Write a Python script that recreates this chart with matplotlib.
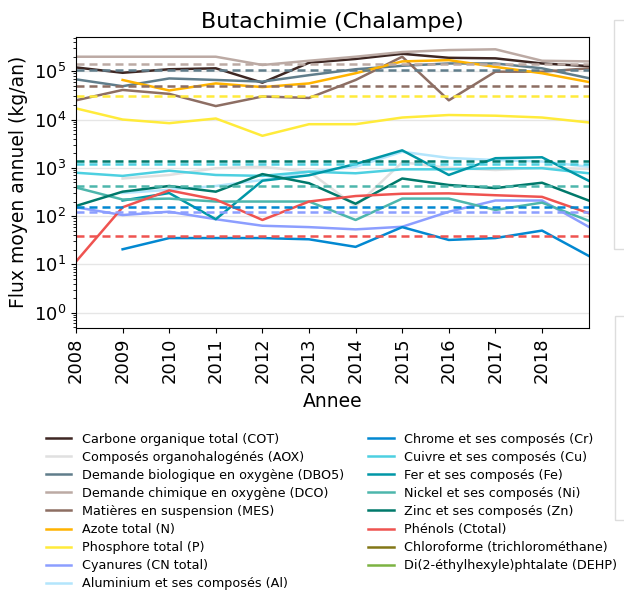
import numpy as np
import matplotlib
matplotlib.use("Agg")
import matplotlib.pyplot as plt
from matplotlib.patches import Rectangle

nan = np.nan
annees = list(range(2008, 2020))

noms = ['Carbone organique total (COT)', 'Composés organohalogénés (AOX)',
        'Demande biologique en oxygène (DBO5)', 'Demande chimique en oxygène (DCO)',
        'Matières en suspension (MES)', 'Azote total (N)', 'Phosphore total (P)',
        'Cyanures (CN total)', 'Aluminium et ses composés (Al)',
        'Chrome et ses composés (Cr)', 'Cuivre et ses composés (Cu)',
        'Fer et ses composés (Fe)', 'Nickel et ses composés (Ni)',
        'Zinc et ses composés (Zn)', 'Phénols (Ctotal)',
        'Chloroforme (trichlorométhane)', 'Di(2-éthylhexyle)phtalate (DEHP)']

couleurs = ['#3e2723', '#e0e0e0', '#607d8b', '#bcaaa4', '#8d6e63', '#ffb300',
            '#ffeb3b', '#8c9eff', '#b3e5fc', '#0288d1', '#4dd0e1', '#0097a7',
            '#4db6ac', '#00796b', '#ef5350', '#827717', '#7cb342']

cot = [1.2e5, 9.3e4, 1.1e5, 1.15e5, 5.8e4, 1.5e5, 1.8e5, 2.3e5, 1.9e5, 1.85e5, 1.45e5, 1.28e5]
aox = [nan, 6.0e2, 7.1e2, 9.8e2, 1.05e3, 8.3e2, 1.6e2, 1.3e3, 1.0e3, 9.0e2, 1.0e3, 9.5e2]
dbo5 = [6.8e4, 4.9e4, 7.1e4, 6.6e4, 6.1e4, 8.3e4, 1.1e5, 1.3e5, 1.45e5, 1.45e5, 1.15e5, 7.2e4]
dco = [2.0e5, 2.0e5, 2.0e5, 2.0e5, 1.35e5, 1.65e5, 2.0e5, 2.5e5, 2.75e5, 2.85e5, 1.65e5, 1.6e5]
mes = [2.5e4, 4.1e4, 3.4e4, 1.9e4, 3.0e4, 2.8e4, 6.6e4, 2.0e5, 2.5e4, 9.8e4, 9.8e4, 1.15e5]
azote = [nan, 6.6e4, 4.0e4, 5.6e4, 4.7e4, 5.6e4, 9.1e4, 1.6e5, 1.7e5, 1.23e5, 9.1e4, 6.0e4]
phosphore = [1.7e4, 1.0e4, 8.4e3, 1.05e4, 4.6e3, 8.0e3, 8.0e3, 1.1e4, 1.24e4, 1.2e4, 1.1e4, 8.7e3]
cyanures = [152, 105, 123, 86, 63, 59, 53, 60, 123, 210, 210, 60]
aluminium = [nan, 3.0e2, 3.5e2, 4.2e2, 5.6e2, 8.3e2, 1.05e3, 2.15e3, 1.6e3, 1.45e3, 1.35e3, 1.05e3]
chrome = [nan, 20.5, 35, 35, 35, 33, 23, 59, 32, 35, 50, 15]
cuivre = [790, 680, 870, 710, 680, 830, 770, 930, 930, 980, 980, 770]
fer = [nan, 210, 300, 86, 540, 700, 1.2e3, 2.3e3, 710, 1.58e3, 1.65e3, 540]
nickel = [390, 220, 230, 200, 200, 200, 83, 230, 230, 134, 190, 80]
zinc = [162, 320, 420, 320, 740, 480, 180, 600, 440, 380, 490, 210]
phenols = [11.4, 152, 340, 220, 83, 200, 260, 290, 295, 270, 250, 115]
chloroforme = []
dehp = []

series = [cot, aox, dbo5, dco, mes, azote, phosphore, cyanures, aluminium,
          chrome, cuivre, fer, nickel, zinc, phenols, chloroforme, dehp]

# seuils (lignes pointillées) : index de la série -> valeur
seuil_index = [3, 2, 4, 6, 13, 10, 12, 9, 7, 14]
seuil_valeurs = [1.39e5, 1.08e5, 4.9e4, 3.0e4, 1.38e3, 1.2e3, 4.2e2, 1.56e2, 1.22e2, 38]

fig = plt.figure(figsize=(6.24, 5.9), dpi=100)
ax = fig.add_axes([0.1218, 0.4441, 0.8215, 0.4937])

for i, s in enumerate(series):
    if len(s):
        ax.plot(annees, s, color=couleurs[i], lw=1.8, label=noms[i])
    else:
        ax.plot([], [], color=couleurs[i], lw=1.8, label=noms[i])

for i, v in zip(seuil_index, seuil_valeurs):
    ax.plot(annees, [v] * len(annees), color=couleurs[i], lw=1.8,
            linestyle=(0, (3.2, 2.0)))

ax.set_yscale('log')
ax.set_ylim(0.48, 5.2e5)
ax.set_xlim(2008, 2019)
ax.set_xticks(range(2008, 2019))
ax.tick_params(axis='x', labelrotation=90, labelsize=13)
ax.tick_params(axis='y', labelsize=13)
ax.yaxis.grid(True, which='major', color='#e6e6e6', lw=1)
ax.set_axisbelow(True)
ax.set_title('Butachimie (Chalampe)', fontsize=16)
ax.set_xlabel('Annee', fontsize=13.5, labelpad=6)
ax.set_ylabel('Flux moyen annuel (kg/an)', fontsize=13.5)

fig.legend(*ax.get_legend_handles_labels(), loc='upper left',
           bbox_to_anchor=(0.055, 1 - 421 / 590), ncol=2, frameon=False,
           fontsize=9.2, columnspacing=1.9, labelspacing=0.4)

# cadres des panneaux voisins
fig.add_artist(Rectangle((614 / 624, 1 - 249 / 590), 0.1, 229 / 590,
                         transform=fig.transFigure, fill=False,
                         edgecolor='#dddddd', lw=1))
fig.add_artist(Rectangle((615 / 624, 1 - 520 / 590), 0.1, 204 / 590,
                         transform=fig.transFigure, fill=False,
                         edgecolor='#dddddd', lw=1))

fig.savefig('out.png', dpi=100)
